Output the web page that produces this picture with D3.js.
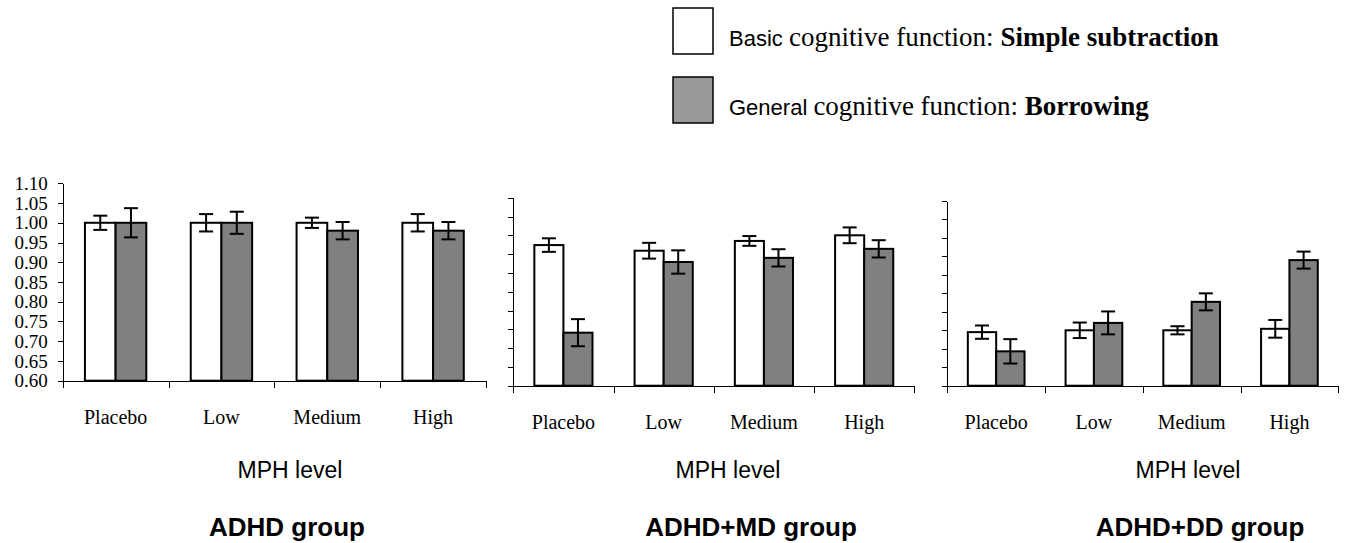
<!DOCTYPE html>
<html lang="en">
<head>
    <meta charset="UTF-8">
    <title>MPH level by group</title>
    <script src="https://d3js.org/d3.v7.min.js"></script>
    <style>
        body { margin: 0; background: #fff; }
        .serif { font-family: "Liberation Serif", "Times New Roman", serif; }
        .sans { font-family: "Liberation Sans", Arial, sans-serif; }
        .axis path, .axis line { stroke: #000; shape-rendering: crispEdges; }
    </style>
</head>
<body>
    <svg id="chart" width="1345" height="543"></svg>

    <script>
        // Data
        const categories = ["Placebo", "Low", "Medium", "High"];
        const groupNames = ["ADHD group", "ADHD+MD group", "ADHD+DD group"];
        const seriesNames = ["Basic cognitive function: ", "General cognitive function: "];
        const seriesBold = ["Simple subtraction", "Borrowing"];

        const simpleMeans = [
            [1.00, 1.00, 1.00, 1.00],
            [0.974, 0.959, 0.985, 1.00],
            [0.745, 0.750, 0.750, 0.754]
        ];
        const simpleErr = [
            [0.018, 0.022, 0.013, 0.022],
            [0.018, 0.021, 0.013, 0.021],
            [0.018, 0.021, 0.011, 0.024]
        ];
        const borrowMeans = [
            [1.00, 1.00, 0.98, 0.98],
            [0.741, 0.929, 0.940, 0.964],
            [0.693, 0.770, 0.827, 0.940]
        ];
        const borrowErr = [
            [0.037, 0.028, 0.022, 0.022],
            [0.036, 0.031, 0.023, 0.023],
            [0.033, 0.031, 0.023, 0.023]
        ];
        const yTicks = [0.60, 0.65, 0.70, 0.75, 0.80, 0.85, 0.90, 0.95, 1.00, 1.05, 1.10];

        const svg = d3.select("#chart");
        const fills = ["#ffffff", "#808080"];

        // panel frames (pixels)
        const panels = [
            { left: 62.7, right: 486, top: 183.3, base: 380.7, labels: true, mph: 290, title: 287 },
            { left: 513.3, right: 914.3, top: 197.7, base: 385.7, labels: false, mph: 728, title: 751 },
            { left: 947.3, right: 1338.3, top: 201, base: 385.7, labels: false, mph: 1188, title: 1200 }
        ];

        panels.forEach((p, gi) => {
            const g = svg.append("g");

            const y = d3.scaleLinear().domain([0.60, 1.10]).range([p.base, p.top]);
            const x = d3.scaleBand().domain(categories).range([p.left, p.right]).padding(0);
            const xs = d3.scaleBand().domain([0, 1])
                .range([x.bandwidth() * 0.21, x.bandwidth() * 0.79]).padding(0);
            const xEdge = d3.scaleLinear().domain([0, categories.length]).range([p.left, p.right]);

            // x axis with ticks between categories
            g.append("g")
                .attr("class", "axis")
                .attr("transform", `translate(0,${p.base})`)
                .call(d3.axisBottom(xEdge).ticks(categories.length).tickSize(7)
                    .tickSizeOuter(0).tickFormat(""));

            // y axis
            const yAxis = d3.axisLeft(y).tickValues(yTicks).tickSize(5).tickSizeOuter(0)
                .tickPadding(10)
                .tickFormat(p.labels ? d3.format(".2f") : "");
            const ya = g.append("g")
                .attr("class", "axis serif")
                .attr("transform", `translate(${p.left},0)`)
                .call(yAxis);
            ya.selectAll("text").attr("font-size", 19).attr("font-family", null)
                .attr("fill", "#000");

            // bars
            const rows = categories.map((c, i) => ({
                cat: c,
                vals: [
                    { s: 0, v: simpleMeans[gi][i], e: simpleErr[gi][i] },
                    { s: 1, v: borrowMeans[gi][i], e: borrowErr[gi][i] }
                ]
            }));

            const cg = g.selectAll(".cat").data(rows).enter().append("g")
                .attr("transform", d => `translate(${x(d.cat)},0)`);

            cg.selectAll("rect").data(d => d.vals).enter().append("rect")
                .attr("x", d => xs(d.s))
                .attr("width", xs.bandwidth())
                .attr("y", d => y(d.v))
                .attr("height", d => p.base - y(d.v))
                .attr("fill", d => fills[d.s])
                .attr("stroke", "#000")
                .attr("stroke-width", 2);

            // error bars
            const eb = cg.selectAll(".err").data(d => d.vals).enter().append("g")
                .attr("transform", d => `translate(${xs(d.s) + xs.bandwidth() / 2},0)`);
            eb.append("line")
                .attr("y1", d => y(d.v + d.e)).attr("y2", d => y(d.v - d.e))
                .attr("stroke", "#000").attr("stroke-width", 2);
            eb.append("line")
                .attr("x1", -7).attr("x2", 7)
                .attr("y1", d => y(d.v + d.e)).attr("y2", d => y(d.v + d.e))
                .attr("stroke", "#000").attr("stroke-width", 2);
            eb.append("line")
                .attr("x1", -7).attr("x2", 7)
                .attr("y1", d => y(d.v - d.e)).attr("y2", d => y(d.v - d.e))
                .attr("stroke", "#000").attr("stroke-width", 2);

            // category labels
            g.selectAll(".clab").data(categories).enter().append("text")
                .attr("class", "serif")
                .attr("x", d => x(d) + x.bandwidth() / 2)
                .attr("y", p.base + 43)
                .attr("text-anchor", "middle")
                .attr("font-size", 20)
                .text(d => d);

            g.append("text")
                .attr("class", "sans")
                .attr("x", p.mph).attr("y", 478)
                .attr("text-anchor", "middle")
                .attr("font-size", 23)
                .text("MPH level");

            g.append("text")
                .attr("class", "sans")
                .attr("x", p.title).attr("y", 536)
                .attr("text-anchor", "middle")
                .attr("font-size", 26)
                .attr("font-weight", "bold")
                .text(groupNames[gi]);
        });

        // legend
        const legendFills = ["#ffffff", "#999999"];
        const lg = svg.selectAll(".legend").data(seriesNames).enter().append("g")
            .attr("transform", (d, i) => `translate(673,${8 + i * 69})`);
        lg.append("rect")
            .attr("width", 40).attr("height", 46)
            .attr("fill", (d, i) => legendFills[i])
            .attr("stroke", "#000").attr("stroke-width", 1.5);
        const lt = lg.append("text").attr("x", 56).attr("y", 38);
        lt.append("tspan").attr("class", "sans").attr("font-size", 22)
            .text(d => d.split(" ")[0] + " ");
        lt.append("tspan").attr("class", "serif").attr("font-size", 27)
            .text(d => d.split(" ").slice(1).join(" "));
        lt.append("tspan").attr("class", "serif").attr("font-size", 27)
            .attr("font-weight", "bold")
            .text((d, i) => seriesBold[i]);
    </script>
</body>
</html>
